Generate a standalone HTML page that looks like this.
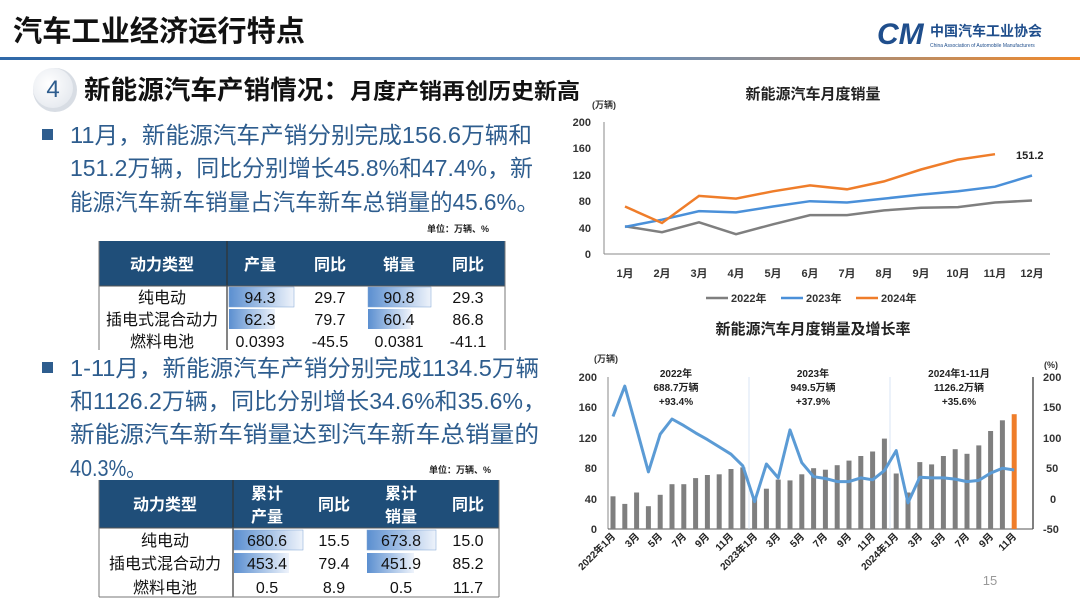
<!DOCTYPE html>
<html><head><meta charset="utf-8"><style>
html,body{margin:0;padding:0;background:#fff;}
svg{display:block;font-family:"Liberation Sans","Noto Sans CJK SC",sans-serif;}
</style></head><body>
<svg width="1080" height="607" viewBox="0 0 1080 607" xmlns="http://www.w3.org/2000/svg">
<defs>
<linearGradient id="hl" x1="0" x2="1"><stop offset="0" stop-color="#2f68a8"/><stop offset="0.6" stop-color="#6b8fb8"/><stop offset="1" stop-color="#f08a2c"/></linearGradient>
<linearGradient id="db" x1="0" x2="1"><stop offset="0" stop-color="#5b8fd0"/><stop offset="1" stop-color="#eef3fb"/></linearGradient>
<radialGradient id="cg" cx="0.4" cy="0.4" r="0.7"><stop offset="0" stop-color="#fff"/><stop offset="1" stop-color="#e4e8ee"/></radialGradient>
</defs>
<rect width="1080" height="607" fill="#fff"/>
<!-- header -->
<text x="13" y="41" font-size="29" font-weight="bold" fill="#111" textLength="292" lengthAdjust="spacingAndGlyphs">汽车工业经济运行特点</text>
<rect x="0" y="57" width="1080" height="3" fill="url(#hl)"/>
<text x="877" y="44" font-size="30" font-weight="bold" fill="#1f4e8c" font-style="italic">CM</text>
<text x="930" y="36" font-size="14" font-weight="bold" fill="#1f4e8c">中国汽车工业协会</text>
<text x="930" y="47" font-size="5" fill="#1f4e8c">China Association of Automobile Manufacturers</text>
<!-- section heading -->
<circle cx="55" cy="90" r="22" fill="#d8dde4"/>
<circle cx="53" cy="88" r="20" fill="url(#cg)"/>
<text x="53" y="97" font-size="24" text-anchor="middle" fill="#2e5d8e">4</text>
<text x="84" y="99" font-size="26" font-weight="bold" fill="#111" textLength="266" lengthAdjust="spacingAndGlyphs">新能源汽车产销情况：</text>
<text x="350" y="99" font-size="22" font-weight="bold" fill="#111" textLength="230" lengthAdjust="spacingAndGlyphs">月度产销再创历史新高</text>
<!-- bullet 1 -->
<rect x="42" y="129" width="11" height="11" fill="#2e5d8e"/>
<g font-size="23" fill="#2e5d8e" lengthAdjust="spacingAndGlyphs">
<text x="70" y="143" textLength="462" lengthAdjust="spacingAndGlyphs">11月，新能源汽车产销分别完成156.6万辆和</text>
<text x="70" y="176" textLength="463" lengthAdjust="spacingAndGlyphs">151.2万辆，同比分别增长45.8%和47.4%，新</text>
<text x="70" y="210" textLength="469" lengthAdjust="spacingAndGlyphs">能源汽车新车销量占汽车新车总销量的45.6%。</text>
</g>
<text x="489" y="232" font-size="9" font-weight="bold" text-anchor="end" fill="#222">单位：万辆、%</text>
<!-- table 1 -->
<rect x="99" y="241" width="406" height="45" fill="#1f4e79"/>
<g font-size="16" font-weight="bold" fill="#fff" text-anchor="middle">
<text x="162" y="270">动力类型</text><text x="260" y="270">产量</text><text x="330" y="270">同比</text><text x="399" y="270">销量</text><text x="468" y="270">同比</text>
</g>
<rect x="229" y="287" width="65" height="20" fill="url(#db)" stroke="#7fa4d4" stroke-width="0.5"/>
<rect x="229" y="309" width="46" height="20" fill="url(#db)"/>
<rect x="368" y="287" width="63" height="20" fill="url(#db)" stroke="#7fa4d4" stroke-width="0.5"/>
<rect x="368" y="309" width="43" height="20" fill="url(#db)"/>
<line x1="227" y1="241" x2="227" y2="350" stroke="#333" stroke-width="1.2"/>
<line x1="99" y1="286" x2="505" y2="286" stroke="#555"/>
<line x1="99" y1="241" x2="99" y2="350" stroke="#777"/><line x1="505" y1="241" x2="505" y2="350" stroke="#777"/>
<g font-size="16" fill="#111" text-anchor="middle">
<text x="162" y="303">纯电动</text><text x="260" y="303">94.3</text><text x="330" y="303">29.7</text><text x="399" y="303">90.8</text><text x="468" y="303">29.3</text>
<text x="162" y="325">插电式混合动力</text><text x="260" y="325">62.3</text><text x="330" y="325">79.7</text><text x="399" y="325">60.4</text><text x="468" y="325">86.8</text>
<text x="162" y="347">燃料电池</text><text x="260" y="347">0.0393</text><text x="330" y="347">-45.5</text><text x="399" y="347">0.0381</text><text x="468" y="347">-41.1</text>
</g>
<!-- bullet 2 -->
<rect x="42" y="362" width="11" height="11" fill="#2e5d8e"/>
<g font-size="23" fill="#2e5d8e">
<text x="70" y="376" textLength="469" lengthAdjust="spacingAndGlyphs">1-11月，新能源汽车产销分别完成1134.5万辆</text>
<text x="70" y="409" textLength="476" lengthAdjust="spacingAndGlyphs">和1126.2万辆，同比分别增长34.6%和35.6%，</text>
<text x="70" y="442" textLength="469" lengthAdjust="spacingAndGlyphs">新能源汽车新车销量达到汽车新车总销量的</text>
<text x="70" y="476" textLength="76" lengthAdjust="spacingAndGlyphs">40.3%。</text>
</g>
<text x="491" y="473" font-size="9" font-weight="bold" text-anchor="end" fill="#222">单位：万辆、%</text>
<!-- table 2 -->
<rect x="99" y="480" width="400" height="48" fill="#1f4e79"/>
<g font-size="16" font-weight="bold" fill="#fff" text-anchor="middle">
<text x="165" y="510">动力类型</text><text x="267" y="499">累计</text><text x="267" y="522">产量</text><text x="334" y="510">同比</text><text x="401" y="499">累计</text><text x="401" y="522">销量</text><text x="468" y="510">同比</text>
</g>
<rect x="234" y="530" width="69" height="20" fill="url(#db)" stroke="#7fa4d4" stroke-width="0.5"/>
<rect x="234" y="553" width="55" height="20" fill="url(#db)"/>
<rect x="367" y="530" width="69" height="20" fill="url(#db)" stroke="#7fa4d4" stroke-width="0.5"/>
<rect x="367" y="553" width="47" height="20" fill="url(#db)"/>
<line x1="233" y1="480" x2="233" y2="597" stroke="#333" stroke-width="1.2"/>
<line x1="99" y1="528" x2="499" y2="528" stroke="#555"/>
<line x1="99" y1="597" x2="499" y2="597" stroke="#777"/>
<line x1="99" y1="480" x2="99" y2="597" stroke="#777"/><line x1="499" y1="480" x2="499" y2="597" stroke="#777"/>
<g font-size="16" fill="#111" text-anchor="middle">
<text x="165" y="546">纯电动</text><text x="267" y="546">680.6</text><text x="334" y="546">15.5</text><text x="401" y="546">673.8</text><text x="468" y="546">15.0</text>
<text x="165" y="569">插电式混合动力</text><text x="267" y="569">453.4</text><text x="334" y="569">79.4</text><text x="401" y="569">451.9</text><text x="468" y="569">85.2</text>
<text x="165" y="593">燃料电池</text><text x="267" y="593">0.5</text><text x="334" y="593">8.9</text><text x="401" y="593">0.5</text><text x="468" y="593">11.7</text>
</g>

<!-- top chart -->
<text x="813" y="99" font-size="15" font-weight="bold" text-anchor="middle" fill="#222">新能源汽车月度销量</text>
<text x="592" y="108" font-size="9" font-weight="bold" fill="#333">(万辆)</text>
<g font-size="11" font-weight="bold" fill="#333" text-anchor="end">
<text x="591" y="258">0</text><text x="591" y="232">40</text><text x="591" y="205">80</text><text x="591" y="179">120</text><text x="591" y="152">160</text><text x="591" y="126">200</text>
</g>
<line x1="604" y1="122" x2="604" y2="254" stroke="#888"/>
<line x1="604" y1="254" x2="1050" y2="254" stroke="#888"/>
<g font-size="11" font-weight="bold" fill="#333" text-anchor="middle">
<text x="625" y="277">1月</text><text x="662" y="277">2月</text><text x="699" y="277">3月</text><text x="736" y="277">4月</text><text x="773" y="277">5月</text><text x="810" y="277">6月</text><text x="847" y="277">7月</text><text x="884" y="277">8月</text><text x="921" y="277">9月</text><text x="958" y="277">10月</text><text x="995" y="277">11月</text><text x="1032" y="277">12月</text>
</g>
<polyline fill="none" stroke="#7f7f7f" stroke-width="2.5" points="625,226.3 662,232.2 699,222.3 736,234.2 773,224.3 810,215.1 847,215.1 884,210.4 921,207.8 958,207.1 995,202.5 1032,200.5"/>
<polyline fill="none" stroke="#4a90d9" stroke-width="2.5" points="625,226.9 662,219.7 699,211.1 736,212.4 773,206.5 810,201.2 847,202.5 884,198.6 921,194.6 958,191.3 995,186.7 1032,175.5"/>
<polyline fill="none" stroke="#ef7d2a" stroke-width="2.5" points="625,206.5 662,223 699,195.9 736,198.6 773,191.3 810,185.4 847,189.3 884,181.4 921,169.5 958,159.6 995,154.2"/>
<text x="1016" y="159" font-size="11" font-weight="bold" fill="#222">151.2</text>
<g font-size="11" font-weight="bold" fill="#333">
<line x1="706" y1="298" x2="728" y2="298" stroke="#7f7f7f" stroke-width="2.5"/><text x="731" y="302">2022年</text>
<line x1="781" y1="298" x2="803" y2="298" stroke="#4a90d9" stroke-width="2.5"/><text x="806" y="302">2023年</text>
<line x1="856" y1="298" x2="878" y2="298" stroke="#ef7d2a" stroke-width="2.5"/><text x="881" y="302">2024年</text>
</g>

<!-- bottom chart -->
<text x="813" y="334" font-size="15" font-weight="bold" text-anchor="middle" fill="#222">新能源汽车月度销量及增长率</text>
<text x="594" y="362" font-size="9" font-weight="bold" fill="#333">(万辆)</text>
<text x="1044" y="368" font-size="9" font-weight="bold" fill="#333">(%)</text>
<g font-size="11" font-weight="bold" fill="#333" text-anchor="end">
<text x="597" y="533">0</text><text x="597" y="503">40</text><text x="597" y="472">80</text><text x="597" y="442">120</text><text x="597" y="411">160</text><text x="597" y="381">200</text>
</g>
<g font-size="11" font-weight="bold" fill="#333" text-anchor="start">
<text x="1043" y="533">-50</text><text x="1050" y="503">0</text><text x="1046" y="472">50</text><text x="1043" y="442">100</text><text x="1043" y="411">150</text><text x="1043" y="381">200</text>
</g>
<line x1="608" y1="377" x2="608" y2="529" stroke="#888"/>
<line x1="1033" y1="377" x2="1033" y2="529" stroke="#555" stroke-width="1.5"/>
<line x1="608" y1="529" x2="1033" y2="529" stroke="#555"/>
<line x1="749" y1="377" x2="749" y2="529" stroke="#cfe0f2" stroke-width="0.8"/>
<line x1="890" y1="377" x2="890" y2="529" stroke="#cfe0f2" stroke-width="0.8"/>
<g font-size="10" font-weight="bold" fill="#222" text-anchor="middle">
<text x="676" y="377">2022年</text><text x="676" y="391">688.7万辆</text><text x="676" y="405">+93.4%</text>
<text x="813" y="377">2023年</text><text x="813" y="391">949.5万辆</text><text x="813" y="405">+37.9%</text>
<text x="959" y="377">2024年1-11月</text><text x="959" y="391">1126.2万辆</text><text x="959" y="405">+35.6%</text>
</g>
<g fill="#7f7f7f">
<rect x="610.5" y="496.3" width="5" height="32.7"/><rect x="622.3" y="503.9" width="5" height="25.1"/><rect x="634.1" y="492.5" width="5" height="36.5"/><rect x="645.9" y="506.2" width="5" height="22.8"/><rect x="657.7" y="494.8" width="5" height="34.2"/><rect x="669.5" y="484.2" width="5" height="44.8"/><rect x="681.3" y="484.2" width="5" height="44.8"/><rect x="693.1" y="478.1" width="5" height="50.9"/><rect x="704.9" y="475" width="5" height="54"/><rect x="716.7" y="474.3" width="5" height="54.7"/><rect x="728.5" y="469" width="5" height="60"/><rect x="740.3" y="467.4" width="5" height="61.6"/>
<rect x="752.1" y="497.8" width="5" height="31.2"/><rect x="763.9" y="488.7" width="5" height="40.3"/><rect x="775.7" y="479.6" width="5" height="49.4"/><rect x="787.5" y="480.4" width="5" height="48.6"/><rect x="799.3" y="474.3" width="5" height="54.7"/><rect x="811.1" y="468.2" width="5" height="60.8"/><rect x="822.9" y="469.7" width="5" height="59.3"/><rect x="834.7" y="465.2" width="5" height="63.8"/><rect x="846.5" y="460.6" width="5" height="68.4"/><rect x="858.3" y="456" width="5" height="73"/><rect x="870.1" y="451.5" width="5" height="77.5"/><rect x="881.9" y="438.6" width="5" height="90.4"/>
<rect x="893.7" y="473.5" width="5" height="55.5"/><rect x="905.5" y="492.5" width="5" height="36.5"/><rect x="917.3" y="462.1" width="5" height="66.9"/><rect x="929.1" y="464.4" width="5" height="64.6"/><rect x="940.9" y="456" width="5" height="73"/><rect x="952.7" y="449.2" width="5" height="79.8"/><rect x="964.5" y="453.8" width="5" height="75.2"/><rect x="976.3" y="445.4" width="5" height="83.6"/><rect x="988.1" y="431" width="5" height="98"/><rect x="999.9" y="420.3" width="5" height="108.7"/>
</g>
<rect x="1011.7" y="414.2" width="5" height="114.8" fill="#ef7d2a"/>
<polyline fill="none" stroke="#5b9bd5" stroke-width="3" stroke-linejoin="round" points="613,416.5 624.8,386.1 636.6,428.7 648.4,471.9 660.2,434.2 672,419 683.8,425.6 695.6,432.9 707.4,439.6 719.2,446.9 731,454.2 742.8,465.8 754.6,501.6 766.4,464 778.2,477.9 790,429.9 801.8,462.7 813.6,476.7 825.4,478.5 837.2,481.6 849,481.6 860.8,477.9 872.6,479.8 884.4,470.6 896.2,450.6 908,502.9 919.8,477.3 931.6,477.9 943.4,477.9 955.2,479.1 967,481.6 978.8,480.4 990.6,473.1 1002.4,468.2 1014.2,470"/>
<g font-size="10" font-weight="bold" fill="#222" text-anchor="end">
<text transform="translate(616,537) rotate(-45)">2022年1月</text>
<text transform="translate(640,537) rotate(-45)">3月</text>
<text transform="translate(663,537) rotate(-45)">5月</text>
<text transform="translate(687,537) rotate(-45)">7月</text>
<text transform="translate(710,537) rotate(-45)">9月</text>
<text transform="translate(734,537) rotate(-45)">11月</text>
<text transform="translate(758,537) rotate(-45)">2023年1月</text>
<text transform="translate(781,537) rotate(-45)">3月</text>
<text transform="translate(805,537) rotate(-45)">5月</text>
<text transform="translate(828,537) rotate(-45)">7月</text>
<text transform="translate(852,537) rotate(-45)">9月</text>
<text transform="translate(876,537) rotate(-45)">11月</text>
<text transform="translate(899,537) rotate(-45)">2024年1月</text>
<text transform="translate(923,537) rotate(-45)">3月</text>
<text transform="translate(946,537) rotate(-45)">5月</text>
<text transform="translate(970,537) rotate(-45)">7月</text>
<text transform="translate(994,537) rotate(-45)">9月</text>
<text transform="translate(1017,537) rotate(-45)">11月</text>
</g>
<text x="990" y="585" font-size="13" fill="#999" text-anchor="middle">15</text>
</svg>
</body></html>
